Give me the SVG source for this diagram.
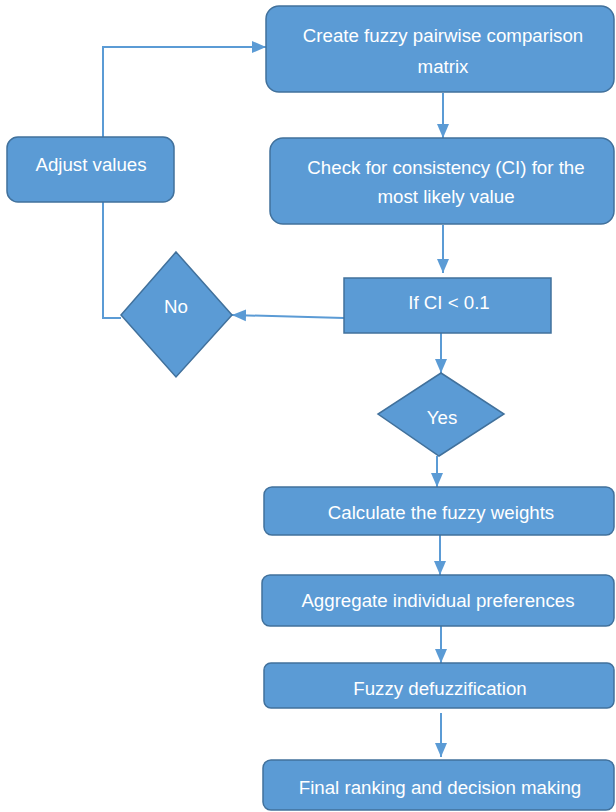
<svg xmlns="http://www.w3.org/2000/svg" width="616" height="812" viewBox="0 0 616 812">
<defs>
<style>
.n{fill:#5B9BD5;stroke:#41719C;stroke-width:1.5}
.t{fill:#FFFFFF;font-family:"Liberation Sans",Arial,sans-serif;font-size:18.7px;text-anchor:middle}
.c{fill:none;stroke:#5B9BD5;stroke-width:2}
</style>
<marker id="ah" markerUnits="userSpaceOnUse" markerWidth="14" markerHeight="14" viewBox="0 0 14 14" refX="14" refY="7" orient="auto">
<path d="M0,1 L14,7 L0,13 Z" fill="#5B9BD5"/>
</marker>
</defs>
<rect width="616" height="812" fill="#FFFFFF"/>
<g id="connectors">
<path class="c" d="M103,137 V47 H266" marker-end="url(#ah)"/>
<path class="c" d="M443,93 V138" marker-end="url(#ah)"/>
<path class="c" d="M443,225 V273" marker-end="url(#ah)"/>
<path class="c" d="M344,318 L232,315" marker-end="url(#ah)"/>
<path class="c" d="M103,202 V318 H121"/>
<path class="c" d="M441,333 V373" marker-end="url(#ah)"/>
<path class="c" d="M437,456 V487" marker-end="url(#ah)"/>
<path class="c" d="M440,535 V575" marker-end="url(#ah)"/>
<path class="c" d="M441,626 V663" marker-end="url(#ah)"/>
<path class="c" d="M441,713 V757" marker-end="url(#ah)"/>
</g>
<g id="create">
<rect class="n" x="266" y="6" width="348" height="86" rx="13" ry="13"/>
<text class="t" x="443" y="42">Create fuzzy pairwise comparison</text>
<text class="t" x="443" y="73">matrix</text>
</g>
<g id="check">
<rect class="n" x="270" y="138" width="344" height="86" rx="13" ry="13"/>
<text class="t" x="446" y="174">Check for consistency (CI) for the</text>
<text class="t" x="446" y="203">most likely value</text>
</g>
<g id="adjust">
<rect class="n" x="7" y="137" width="167" height="65" rx="11" ry="11"/>
<text class="t" x="91" y="171">Adjust values</text>
</g>
<g id="ifci">
<rect class="n" x="344" y="278" width="207" height="55"/>
<text class="t" x="449" y="309">If CI &lt; 0.1</text>
</g>
<g id="no">
<polygon class="n" points="176,252 232,315 176,377 121,315"/>
<text class="t" x="176" y="313">No</text>
</g>
<g id="yes">
<polygon class="n" points="441,373 504,414 439,456 378,414"/>
<text class="t" x="442" y="424">Yes</text>
</g>
<g id="calculate">
<rect class="n" x="264" y="487" width="350" height="48" rx="8" ry="8"/>
<text class="t" x="441" y="519">Calculate the fuzzy weights</text>
</g>
<g id="aggregate">
<rect class="n" x="262" y="575" width="352" height="51" rx="8" ry="8"/>
<text class="t" x="438" y="607">Aggregate individual preferences</text>
</g>
<g id="defuzz">
<rect class="n" x="264" y="663" width="350" height="45" rx="7" ry="7"/>
<text class="t" x="440" y="695">Fuzzy defuzzification</text>
</g>
<g id="final">
<rect class="n" x="263" y="760" width="351" height="50" rx="8" ry="8"/>
<text class="t" x="440" y="794">Final ranking and decision making</text>
</g>
</svg>
